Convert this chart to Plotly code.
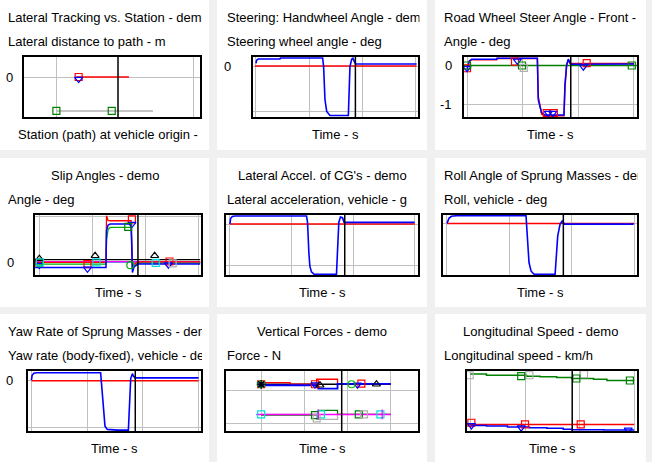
import plotly.graph_objects as go

W, H = 652, 462

# ---------------- DATA ----------------
# Panel 1: Lateral tracking vs station
station_red = [14.6, 53.1]
latdist_red = [0.0, 0.0]
station_gray = [0.0, 70.7]
latdist_gray = [-1.0, -1.0]
station_cursor = 45.1

# common cursor time for time-history panels
cursor_time = 9.32

# Panel 2: steering wheel angle
t_steer = [0, 0.06, 0.22, 2.25, 2.3, 6.25, 6.34, 6.47, 6.63, 6.94, 8.66, 8.72, 8.81, 8.97, 9.09, 9.22, 9.34, 15.06]
steer_blue = [6, 13, 15.6, 15.6, 17.8, 17.8, -1.5, -75, -101, -110, -110, -53, -1.5, 15, 17, 9.6, 4.4, 4.4]
t_steer_red = [-0.1, 15.05]
steer_red = [0, 0]

# Panel 3: road wheel steer angle (front)
t_rw = [0, 0.2, 0.42, 2.67, 2.7, 6.32, 6.4, 6.56, 6.7, 7.0, 8.71, 8.8, 8.95, 9.1, 9.25, 9.4, 15]
rw_blue = [-0.11, 0.12, 0.165, 0.165, 0.19, 0.19, -0.89, -1.06, -1.22, -1.28, -1.28, -0.5, 0.02, 0.165, 0.06, 0.035, 0.04]
rw_red = [-0.05, 0.10, 0.15, 0.15, 0.18, 0.18, -0.80, -1.10, -1.25, -1.30, -1.30, -0.55, 0.0, 0.15, 0.07, 0.05, 0.05]
t_rw_green = [-0.3, 15.3]
rw_green = [0, 0]

# Panel 4: slip angles
t_slip = [-0.4, 6.3, 6.35, 6.5, 6.7, 8.68, 8.8, 8.95, 9.3, 15.2]
slip_blue = [-0.55, -0.55, 3.5, 4.1, 4.2, 4.2, -1.1, -0.5, -0.18, -0.18]
slip_red = [0.0, 0.0, 5.1, 4.6, 4.56, 4.56, -0.6, -0.2, 0.05, 0.05]
slip_green = [-0.18, -0.18, 2.5, 3.6, 3.83, 3.83, -0.6, -0.4, -0.07, -0.07]
t_slip_flat = [-0.4, 15.2]
slip_black = [0.3, 0.3]
slip_magenta = [0.08, 0.08]
slip_cyan = [0.0, 0.0]

# Panel 5: lateral acceleration
t_ay = [0, 0.05, 0.19, 0.41, 6.22, 6.3, 6.41, 6.49, 6.62, 6.84, 8.65, 8.73, 8.84, 8.97, 9.14, 9.27, 9.38, 15]
ay_blue = [0, 0.068, 0.093, 0.098, 0.098, 0.02, -0.35, -0.51, -0.58, -0.61, -0.61, -0.39, 0.02, 0.085, 0.077, 0.02, 0.02, 0.02]
t_ay_red = [0, 15]
ay_red = [0, 0]

# Panel 6: roll angle
t_roll = [0, 0.16, 0.35, 0.75, 6.33, 6.44, 6.57, 6.73, 6.97, 8.66, 8.74, 8.87, 9.06, 9.25, 9.38, 14.95]
roll_blue = [0, 0.2, 0.28, 0.30, 0.30, -0.62, -1.54, -1.87, -2.0, -2.0, -1.28, -0.49, -0.03, 0.11, -0.03, -0.03]
t_roll_red = [0, 15]
roll_red = [0, 0]

# Panel 7: yaw rate
t_yaw = [0, 0.06, 0.21, 0.45, 6.21, 6.3, 6.45, 6.6, 6.81, 7.71, 8.7, 8.79, 8.91, 9.06, 9.15, 9.3, 15]
yaw_blue = [0.3, 2.4, 3.3, 3.5, 3.5, -1.8, -14.6, -19.6, -21, -21.3, -21.3, -10.3, 1, 3.1, 2.1, 1.3, 1.3]
t_yaw_red = [0, 15]
yaw_red = [0, 0]

# Panel 8: vertical forces
t_fz_red = [-0.5, 3.35, 3.35, 6.42, 6.42, 8.84, 8.84, 15]
fz_red = [4513, 4513, 4411, 4411, 4718, 4718, 4450, 4450]
t_fz_blue = [-0.5, 6.61, 6.61, 8.84, 8.84, 15]
fz_blue = [4350, 4350, 4145, 4145, 4431, 4431]
t_fz_black = [-0.5, 15]
fz_black = [4411, 4411]
t_fz_green = [0, 6.61, 6.61, 8.84, 8.84, 15]
fz_green = [2509, 2509, 2796, 2796, 2550, 2550]
t_fz_gray = [0, 6.42, 6.42, 8.84, 8.84, 15]
fz_gray = [2550, 2550, 2243, 2243, 2550, 2550]
t_fz_magenta = [-0.58, 15]
fz_magenta = [2550, 2550]

# Panel 9: longitudinal speed
t_vx_green = [0, 1.47, 5.14, 6.37, 7.9, 9.28, 11.27, 12.5, 15]
vx_green = [95.6, 93.3, 91.7, 90.6, 89.4, 87.8, 86.7, 84.4, 84.4]
t_vx_red = [-0.3, 15]
vx_red = [10, 10]
t_vx_blue = [0, 1.47, 3.4, 5.4, 7.0, 8.5, 9.3, 12.2, 15]
vx_blue = [8.3, 7.2, 5.6, 4.4, 3.3, 1.7, 1.1, 0.56, 0.56]

# marker points (x list, y list) per panel / series
mk = {
    1: [([16.3], [0.0], 'square-open', 'red'),
        ([16.3], [-0.06], 'triangle-down-open', 'blue'),
        ([0.0, 40.5], [-1.0, -1.0], 'square-open', 'green')],
    3: [([0.0, 4.31, 7.16, 7.8, 10.75], [-0.07, 0.10, -1.23, -1.23, 0.06], 'square-open', 'red'),
        ([0.0, 4.52, 7.3, 7.7, 10.45], [-0.07, 0.12, -1.23, -1.23, -0.03], 'triangle-down-open', 'blue'),
        ([0.0, 4.94, 14.8], [0, 0, 0], 'square-open', 'green'),
        ([5.1], [-0.06], 'square-open', '#b0b0b0')],
    4: [([0.0, 4.55, 8.75, 12.3], [0.0, -0.2, 4.7, 0.1], 'square-open', 'red'),
        ([0.0, 4.55, 8.75, 12.2], [-0.3, -0.7, 4.2, -0.25], 'triangle-down-open', 'blue'),
        ([0.0, 8.6], [-0.1, -0.3], 'circle-open', '#00b000'),
        ([8.4], [3.9], 'square-open', '#008000'),
        ([0.0, 5.27, 10.9], [0.4, 0.73, 0.73], 'triangle-up-open', 'black'),
        ([0.05, 5.4, 11.0], [0.0, 0.0, -0.05], 'square-open', '#00e0e0'),
        ([12.6], [-0.1], 'square-open', '#b0b0b0')],
    8: [([0.0, 6.23, 11.6], [4411, 4411, 4450], 'square-open', 'red'),
        ([0.0, 6.23, 11.15], [4400, 4390, 4380], 'triangle-down-open', 'blue'),
        ([0.0, 10.46], [4411, 4411], 'circle-open', '#00c000'),
        ([0.0], [4411], 'asterisk-open', 'black'),
        ([6.8, 13.34], [4350, 4411], 'triangle-up-open', 'black'),
        ([0.0, 6.92, 13.8], [2550, 2550, 2550], 'square-open', '#00e0e0'),
        ([6.23, 11.3], [2509, 2550], 'square-open', 'green'),
        ([6.42, 11.9], [2305, 2550], 'square-open', '#b0b0b0'),
        ([6.6, 14.0], [2550, 2550], 'line-ns-open', 'magenta')],
    9: [([-0.06, 5.4, 10.4], [93.3, 93.3, 95.0], 'square-open', '#b0b0b0'),
        ([4.65, 9.7, 14.6], [91.7, 87.8, 84.4], 'square-open', 'green'),
        ([0.09, 5.0, 10.1], [12.8, 10, 10], 'square-open', 'red'),
        ([0.1, 4.65, 14.45], [8.3, 4.4, 0.56], 'triangle-down-open', 'blue')],
}

# ---------------- LAYOUT ----------------
GRID = '#c0c0c0'
FONT = 'Liberation Sans, Arial, sans-serif'
FS = 13
cols = [(0, 209), (217, 427), (435, 646)]
rows = [(0, 150), (158, 307), (314, 462)]
text_left = [7, 226, 443]
clip_right = [201, 418.5, 637]

panels = [
    dict(title='Lateral Tracking vs. Station - demo', tcenter=False,
         ylab='Lateral distance to path - m', xlab='Station (path) at vehicle origin - m', xl_center=False,
         box=(24, 200), xr=[-23.7, 105.1], yr=[-1.18, 0.59], xg=[0, 100], yg=[0],
         ylbls=[(0, '0')], lblx=15, cursor=station_cursor,
         lines=[(station_gray, latdist_gray, '#b0b0b0', 1.5), (station_red, latdist_red, 'red', 1.5)]),
    dict(title='Steering: Handwheel Angle - demo', tcenter=False,
         ylab='Steering wheel angle - deg', xlab='Time - s', xl_center=True,
         box=(253, 418), xr=[-0.28, 15.19], yr=[-113.3, 20], xg=[0, 5, 10, 15], yg=[0, -100],
         ylbls=[(0, '0')], lblx=233, cursor=cursor_time,
         lines=[(t_steer_red, steer_red, 'red', 1.5), (t_steer, steer_blue, 'blue', 1.6)]),
    dict(title='Road Wheel Steer Angle - Front - demo', tcenter=False,
         ylab='Angle - deg', xlab='Time - s', xl_center=True,
         box=(464, 637), xr=[-0.27, 15.27], yr=[-1.33, 0.22], xg=[0, 5, 10, 15], yg=[0, -1],
         ylbls=[(0, '0'), (-1, '-1')], lblx=454, cursor=cursor_time,
         lines=[(t_rw_green, rw_green, 'green', 1.5), (t_rw, rw_red, 'red', 1.5), (t_rw, rw_blue, 'blue', 1.5)]),
    dict(title='Slip Angles - demo', tcenter=True,
         ylab='Angle - deg', xlab='Time - s', xl_center=True,
         box=(35, 201), xr=[-0.41, 15.28], yr=[-1.38, 5.19], xg=[0, 5, 10, 15], yg=[0, 5],
         ylbls=[(0, '0')], lblx=15.5, cursor=cursor_time,
         lines=[(t_slip_flat, slip_black, 'black', 1.3), (t_slip_flat, slip_cyan, '#00e0e0', 1.3),
                (t_slip_flat, slip_magenta, 'magenta', 1.5), (t_slip, slip_green, '#00b000', 1.3),
                (t_slip, slip_red, 'red', 1.3), (t_slip, slip_blue, 'blue', 1.5)]),
    dict(title="Lateral Accel. of CG's - demo", tcenter=True,
         ylab='Lateral acceleration, vehicle - g', xlab='Time - s', xl_center=True,
         box=(226, 418), xr=[-0.32, 15.27], yr=[-0.618, 0.11], xg=[0, 5, 10, 15], yg=[0, -0.5],
         ylbls=[], lblx=0, cursor=cursor_time,
         lines=[(t_ay_red, ay_red, 'red', 1.5), (t_ay, ay_blue, 'blue', 1.6)]),
    dict(title='Roll Angle of Sprung Masses - demo', tcenter=False,
         ylab='Roll, vehicle - deg', xlab='Time - s', xl_center=True,
         box=(443, 637), xr=[-0.32, 15.22], yr=[-2.03, 0.33], xg=[0, 5, 10, 15], yg=[0],
         ylbls=[], lblx=0, cursor=cursor_time,
         lines=[(t_roll_red, roll_red, 'red', 1.5), (t_roll, roll_blue, 'blue', 1.6)]),
    dict(title='Yaw Rate of Sprung Masses - demo', tcenter=False,
         ylab='Yaw rate (body-fixed), vehicle - deg/s', xlab='Time - s', xl_center=True,
         box=(28, 201), xr=[-0.31, 15.22], yr=[-21.7, 4.26], xg=[0, 5, 10, 15], yg=[0, -20],
         ylbls=[(0, '0')], lblx=15, cursor=cursor_time,
         lines=[(t_yaw_red, yaw_red, 'red', 1.5), (t_yaw, yaw_blue, 'blue', 1.6)]),
    dict(title='Vertical Forces - demo', tcenter=True,
         ylab='Force - N', xlab='Time - s', xl_center=True,
         box=(226, 418), xr=[-4.07, 18.15], yr=[1528, 5227], xg=[0, 5, 10, 15], yg=[2000, 4000],
         ylbls=[], lblx=0, cursor=cursor_time,
         lines=[(t_fz_black, fz_black, 'black', 1.3), (t_fz_red, fz_red, 'red', 1.3),
                (t_fz_blue, fz_blue, 'blue', 1.8),
                (t_fz_gray, fz_gray, '#b0b0b0', 1.3), (t_fz_green, fz_green, 'green', 1.3),
                (t_fz_magenta, fz_magenta, 'magenta', 1.5)]),
    dict(title='Longitudinal Speed - demo', tcenter=True,
         ylab='Longitudinal speed - km/h', xlab='Time - s', xl_center=True,
         box=(467, 637), xr=[-0.31, 15.25], yr=[-1.2, 100.5], xg=[0, 5, 10, 15], yg=[],
         ylbls=[], lblx=0, cursor=cursor_time,
         lines=[(t_vx_green, vx_green, 'green', 1.5, 'hv'), (t_vx_red, vx_red, 'red', 1.5),
                (t_vx_blue, vx_blue, 'blue', 1.5, 'hv')]),
]

fig = go.Figure()
shapes = []
annotations = []
layout_axes = {}


def ax_name(kind, i):
    return kind if i == 1 else f'{kind}{i}'


for idx, p in enumerate(panels):
    i = idx + 1
    ci = idx % 3
    c0, c1 = cols[ci]
    r0, r1 = rows[idx // 3]
    shapes.append(dict(type='rect', xref='paper', yref='paper', x0=c0 / W, x1=c1 / W,
                       y0=1 - r1 / H, y1=1 - r0 / H, fillcolor='white', line=dict(width=0), layer='below'))
    bx0, bx1 = p['box']
    by0, by1 = r0 + 57, r0 + 117
    xa, ya = ax_name('x', i), ax_name('y', i)
    common = dict(showgrid=True, gridcolor=GRID, gridwidth=1, zeroline=False, showline=True,
                  linecolor='black', linewidth=1.5, mirror=True, ticks='', showticklabels=False,
                  fixedrange=True)
    layout_axes[ax_name('xaxis', i)] = dict(domain=[bx0 / W, bx1 / W], range=p['xr'], tickvals=p['xg'],
                                             anchor=ya, **common)
    layout_axes[ax_name('yaxis', i)] = dict(domain=[1 - by1 / H, 1 - by0 / H], range=p['yr'], tickvals=p['yg'],
                                             anchor=xa, **common)
    for ln in p['lines']:
        xs, ys, col, wd = ln[0], ln[1], ln[2], ln[3]
        shape = ln[4] if len(ln) > 4 else 'linear'
        fig.add_trace(go.Scatter(x=xs, y=ys, mode='lines', line=dict(color=col, width=wd, shape=shape),
                                 xaxis=xa, yaxis=ya, showlegend=False, hoverinfo='skip'))
    for (mx, my, sym, col) in mk.get(i, []):
        fig.add_trace(go.Scatter(x=mx, y=my, mode='markers',
                                 marker=dict(symbol=sym, size=7, color=col, line=dict(color=col, width=1.2)),
                                 xaxis=xa, yaxis=ya, showlegend=False, hoverinfo='skip'))
    shapes.append(dict(type='line', xref=xa, yref=f'{ya} domain', x0=p['cursor'], x1=p['cursor'],
                       y0=0, y1=1, line=dict(color='black', width=1.5), layer='above'))
    tl = text_left[ci]
    tw = clip_right[ci] - tl
    fnt = dict(family=FONT, size=FS, color='black')
    if p['tcenter']:
        annotations.append(dict(text=p['title'], x=(c0 + c1) / 2 / W, y=1 - (r0 + 17) / H, xref='paper',
                                yref='paper', xanchor='center', yanchor='middle', showarrow=False, font=fnt))
    else:
        annotations.append(dict(text=p['title'], x=tl / W, y=1 - (r0 + 17) / H, xref='paper', yref='paper',
                                xanchor='left', yanchor='middle', showarrow=False, font=fnt, width=tw,
                                align='left', borderpad=0))
    annotations.append(dict(text=p['ylab'], x=tl / W, y=1 - (r0 + 41.5) / H, xref='paper', yref='paper',
                            xanchor='left', yanchor='middle', showarrow=False, font=fnt, width=tw,
                            align='left', borderpad=0))
    if p['xl_center']:
        annotations.append(dict(text=p['xlab'], x=(bx0 + bx1) / 2 / W, y=1 - (r0 + 134) / H, xref='paper',
                                yref='paper', xanchor='center', yanchor='middle', showarrow=False, font=fnt))
    else:
        annotations.append(dict(text=p['xlab'], x=(c0 + 17) / W, y=1 - (r0 + 134) / H, xref='paper',
                                yref='paper', xanchor='left', yanchor='middle', showarrow=False, font=fnt,
                                width=clip_right[ci] - (c0 + 17), align='left', borderpad=0))
    for (val, txt) in p['ylbls']:
        annotations.append(dict(text=txt, x=p['lblx'] / W, y=val, xref='paper', yref=ya, xanchor='right',
                                yanchor='middle', showarrow=False, font=fnt))

fig.update_layout(width=W, height=H, margin=dict(l=0, r=0, t=0, b=0), paper_bgcolor='#f0f0f0',
                  plot_bgcolor='white', shapes=shapes, annotations=annotations, showlegend=False,
                  **layout_axes)
fig.write_html('out.html', config={'displayModeBar': False})
